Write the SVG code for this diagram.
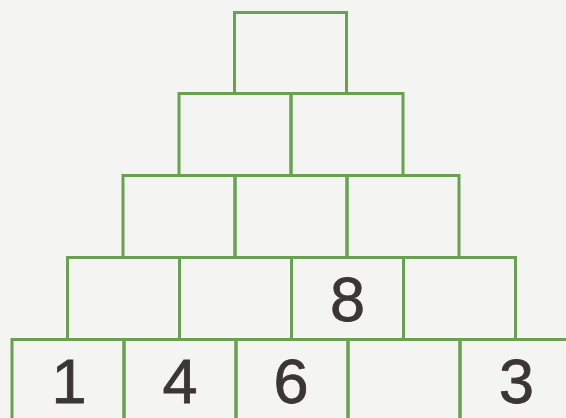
<svg xmlns="http://www.w3.org/2000/svg" width="566" height="418" viewBox="0 0 566 418">
<style>
.cell{fill:none;stroke:#69a052;stroke-width:3}
.num{font-family:"Liberation Sans",Arial,sans-serif;font-size:63px;fill:#3b3536;stroke:#3b3536;stroke-width:0.8;text-anchor:middle}
</style>
<rect x="0" y="0" width="566" height="418" fill="#f4f4f2"/>
<g id="r1c1"><rect class="cell" x="234.5" y="12.5" width="112" height="81"/></g>
<g id="r2c1"><rect class="cell" x="179" y="93.5" width="112" height="82"/></g>
<g id="r2c2"><rect class="cell" x="291" y="93.5" width="112" height="82"/></g>
<g id="r3c1"><rect class="cell" x="123" y="175.5" width="112" height="82"/></g>
<g id="r3c2"><rect class="cell" x="235" y="175.5" width="112" height="82"/></g>
<g id="r3c3"><rect class="cell" x="347" y="175.5" width="112" height="82"/></g>
<g id="r4c1"><rect class="cell" x="67.5" y="257.5" width="112" height="82"/></g>
<g id="r4c2"><rect class="cell" x="179.5" y="257.5" width="112" height="82"/></g>
<g id="r4c3"><rect class="cell" x="291.5" y="257.5" width="112" height="82"/><text class="num" x="347.5" y="321">8</text></g>
<g id="r4c4"><rect class="cell" x="403.5" y="257.5" width="112" height="82"/></g>
<g id="r5c1"><rect class="cell" x="12" y="339.5" width="112" height="90"/><text class="num" x="69" y="403">1</text></g>
<g id="r5c2"><rect class="cell" x="124" y="339.5" width="112" height="90"/><text class="num" x="180" y="403">4</text></g>
<g id="r5c3"><rect class="cell" x="236" y="339.5" width="112" height="90"/><text class="num" x="291" y="403">6</text></g>
<g id="r5c4"><rect class="cell" x="348" y="339.5" width="112" height="90"/></g>
<g id="r5c5"><rect class="cell" x="460" y="339.5" width="112" height="90"/><text class="num" x="516.5" y="403">3</text></g>
<g id="connectors"></g>
</svg>
